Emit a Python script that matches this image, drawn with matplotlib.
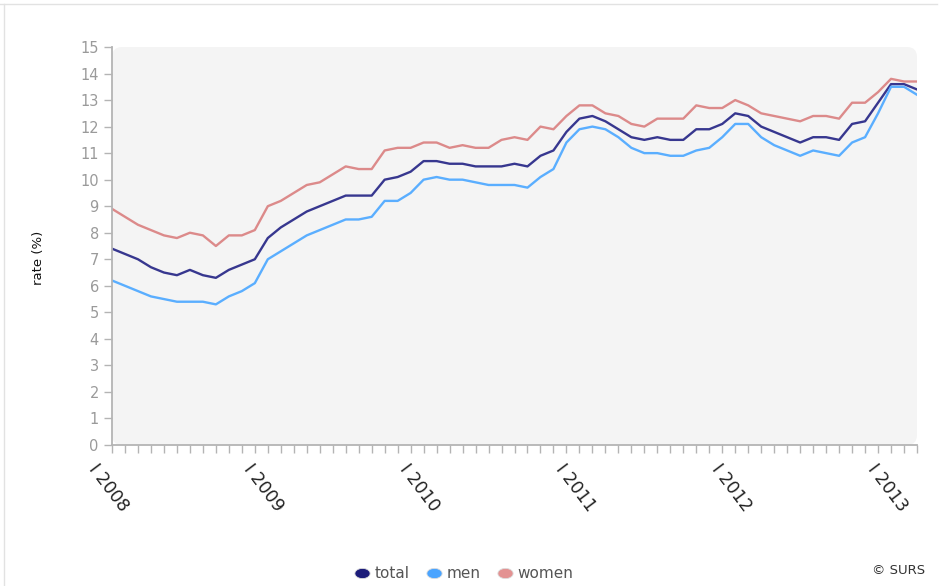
import matplotlib.pyplot as plt
import numpy as np
from matplotlib.lines import Line2D
from matplotlib.patches import FancyBboxPatch
from matplotlib.path import Path

plt.rcParams['font.family'] = ['DejaVu Sans']

# monthly rates, I 2008 .. III 2013
total = [7.4, 7.2, 7.0, 6.7, 6.5, 6.4, 6.6, 6.4, 6.3, 6.6, 6.8,
         7.0, 7.8, 8.2, 8.5, 8.8, 9.0, 9.2, 9.4, 9.4, 9.4,
         10.0, 10.1, 10.3, 10.7, 10.7, 10.6, 10.6, 10.5, 10.5, 10.5,
         10.6, 10.5, 10.9, 11.1, 11.8, 12.3, 12.4, 12.2, 11.9, 11.6,
         11.5, 11.6, 11.5, 11.5, 11.9, 11.9, 12.1, 12.5, 12.4, 12.0,
         11.8, 11.6, 11.4, 11.6, 11.6, 11.5, 12.1, 12.2, 12.9, 13.6,
         13.6, 13.4]
men = [6.2, 6.0, 5.8, 5.6, 5.5, 5.4, 5.4, 5.4, 5.3, 5.6, 5.8,
       6.1, 7.0, 7.3, 7.6, 7.9, 8.1, 8.3, 8.5, 8.5, 8.6,
       9.2, 9.2, 9.5, 10.0, 10.1, 10.0, 10.0, 9.9, 9.8, 9.8,
       9.8, 9.7, 10.1, 10.4, 11.4, 11.9, 12.0, 11.9, 11.6, 11.2,
       11.0, 11.0, 10.9, 10.9, 11.1, 11.2, 11.6, 12.1, 12.1, 11.6,
       11.3, 11.1, 10.9, 11.1, 11.0, 10.9, 11.4, 11.6, 12.5, 13.5,
       13.5, 13.2]
women = [8.9, 8.6, 8.3, 8.1, 7.9, 7.8, 8.0, 7.9, 7.5, 7.9, 7.9,
         8.1, 9.0, 9.2, 9.5, 9.8, 9.9, 10.2, 10.5, 10.4, 10.4,
         11.1, 11.2, 11.2, 11.4, 11.4, 11.2, 11.3, 11.2, 11.2, 11.5,
         11.6, 11.5, 12.0, 11.9, 12.4, 12.8, 12.8, 12.5, 12.4, 12.1,
         12.0, 12.3, 12.3, 12.3, 12.8, 12.7, 12.7, 13.0, 12.8, 12.5,
         12.4, 12.3, 12.2, 12.4, 12.4, 12.3, 12.9, 12.9, 13.3, 13.8,
         13.7, 13.7]
year_labels = ['I 2008', 'I 2009', 'I 2010', 'I 2011', 'I 2012', 'I 2013']
series_names = ['total', 'men', 'women']
colors = ['#37378f', '#5aaeff', '#dc8a8a']
marker_colors = ['#1c1c7a', '#4aa4ff', '#e39292']

months = np.arange(len(total))

W, H = 947, 586
fig = plt.figure(figsize=(W / 100, H / 100), dpi=100)

# plot area in pixels: left 112, right 917, top 47, bottom 445
ax = fig.add_axes([112 / W, (H - 445) / H, 805 / W, 398 / H])
ax.set_facecolor('none')

bg = FancyBboxPatch((1.12, (H - 445) / 100), 8.05, 3.98,
                    boxstyle='round,pad=0,rounding_size=0.1',
                    transform=fig.dpi_scale_trans,
                    facecolor='#f4f4f4', edgecolor='none', zorder=-1)
fig.add_artist(bg)

# faint frame of the screenshot
fig.add_artist(Line2D([0, 937 / W], [1 - 4 / H, 1 - 4 / H], color='#e2e2e2', lw=1))
fig.add_artist(Line2D([4 / W, 4 / W], [0, 1 - 4 / H], color='#e2e2e2', lw=1))

for vals, c in zip([total, men, women], colors):
    ax.plot(months, vals, color=c, lw=1.7, solid_joinstyle='round')

ax.set_xlim(0, len(total) - 1)
ax.set_ylim(0, 15)
ax.set_yticks(range(0, 16))
ax.set_xticks(months)
ax.set_xticklabels([])

for s in ['top', 'right']:
    ax.spines[s].set_visible(False)
for s in ['left', 'bottom']:
    ax.spines[s].set_color('#b4b4b4')
    ax.spines[s].set_linewidth(1.3)

ax.tick_params(axis='y', direction='out', length=6, width=1, color='#b4b4b4',
               labelcolor='#9a9a9a', labelsize=10.5, pad=3.5)
ax.tick_params(axis='x', direction='out', length=5.5, width=1, color='#b4b4b4')

for k, lab in enumerate(year_labels):
    ax.annotate(lab, xy=(k * 12, 0), xycoords='data',
                xytext=(-9.5, -11), textcoords='offset points',
                rotation=-53, rotation_mode='anchor', ha='left', va='top',
                fontsize=12.5, color='#222222', annotation_clip=False)

fig.text(38 / W, 1 - 258 / H, 'rate (%)', rotation=90, ha='center', va='center',
         fontsize=9.5, color='#111111')

# legend with oval markers
t = np.linspace(0, 2 * np.pi, 40)
oval = Path(np.c_[1.5 * np.cos(t), np.sin(t)])
handles = [Line2D([], [], linestyle='none', marker=oval, markersize=11,
                  markerfacecolor=mc, markeredgecolor='#dddddd', markeredgewidth=0.6)
           for mc in marker_colors]
fig.legend(handles, series_names, loc='center', bbox_to_anchor=(463 / W, 12 / H),
           ncol=3, frameon=False, handletextpad=0.2, columnspacing=1.0,
           handlelength=1.2, fontsize=11, labelcolor='#555555')

fig.text(925 / W, 16 / H, '© SURS', ha='right', va='center', fontsize=9.5, color='#333333')

fig.savefig('out.png', dpi=100)
